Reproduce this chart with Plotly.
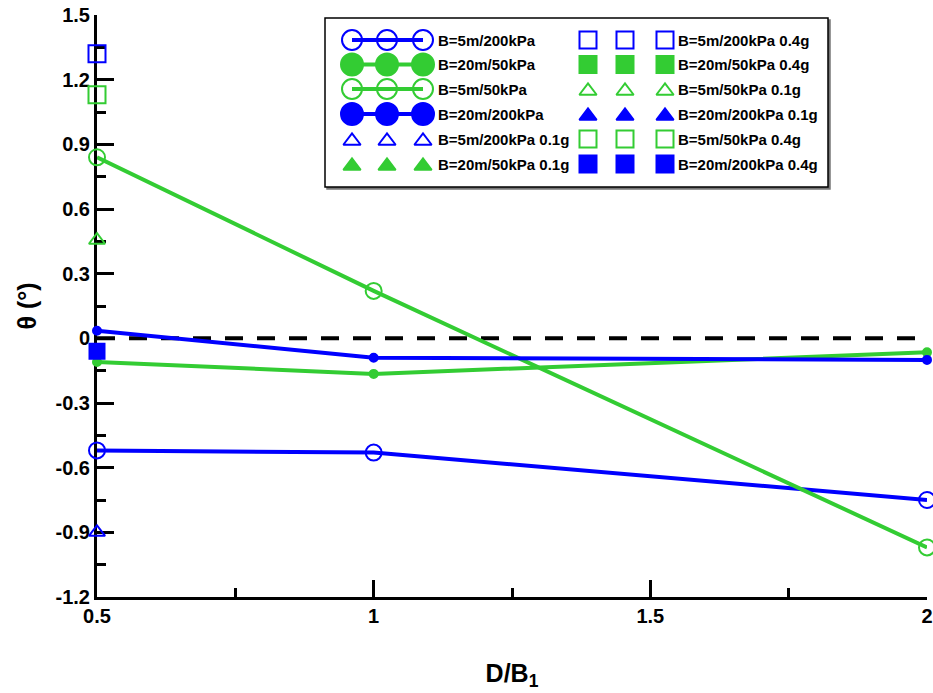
import plotly.graph_objects as go

# ---------------- data ----------------
x_lines = [0.5, 1, 2]
b5_200 = [-0.52, -0.53, -0.75]      # B=5m/200kPa
b20_50 = [-0.11, -0.165, -0.065]    # B=20m/50kPa
b5_50 = [0.84, 0.22, -0.97]         # B=5m/50kPa
b20_200 = [0.035, -0.09, -0.10]     # B=20m/200kPa

x_single = [0.5]
b5_200_01g = [-0.90]
b5_200_04g = [1.32]
b5_50_01g = [0.455]
b5_50_04g = [1.13]
b20_200_04g = [-0.06]

x_tickvals = [0.5, 1, 1.5, 2]
x_ticktext = ["0.5", "1", "1.5", "2"]
x_minor = [0.75, 1.25, 1.75]
y_tickvals = [1.5, 1.2, 0.9, 0.6, 0.3, 0, -0.3, -0.6, -0.9, -1.2]
y_ticktext = ["1.5", "1.2", "0.9", "0.6", "0.3", "0", "-0.3", "-0.6", "-0.9", "-1.2"]
y_minor = [1.35, 1.05, 0.75, 0.45, 0.15, -0.15, -0.45, -0.75, -1.05]

legend_labels_col1 = ["B=5m/200kPa", "B=20m/50kPa", "B=5m/50kPa",
                      "B=20m/200kPa", "B=5m/200kPa 0.1g", "B=20m/50kPa 0.1g"]
legend_labels_col2 = ["B=5m/200kPa 0.4g", "B=20m/50kPa 0.4g", "B=5m/50kPa 0.1g",
                      "B=20m/200kPa 0.1g", "B=5m/50kPa 0.4g", "B=20m/200kPa 0.4g"]

# ---------------- styles ----------------
BLUE = "#0000ff"
GREEN = "#33cc33"
FONT = "Arial, Liberation Sans, sans-serif"

fig = go.Figure()

# zero reference line
fig.add_hline(y=0, line=dict(color="black", width=4, dash="18px,14px"), layer="below")

def line_trace(y, color, symbol, size, name):
    return go.Scatter(
        x=x_lines, y=y, mode="lines+markers", name=name, cliponaxis=False,
        line=dict(color=color, width=4),
        marker=dict(symbol=symbol, size=size, color=color,
                    line=dict(color=color, width=2)))

def pt_trace(y, color, symbol, size, name):
    return go.Scatter(
        x=x_single, y=y, mode="markers", name=name, cliponaxis=False,
        marker=dict(symbol=symbol, size=size, color=color,
                    line=dict(color=color, width=2)))

fig.add_trace(line_trace(b5_200, BLUE, "circle-open", 16, "B=5m/200kPa"))
fig.add_trace(line_trace(b20_50, GREEN, "circle", 8, "B=20m/50kPa"))
fig.add_trace(line_trace(b5_50, GREEN, "circle-open", 16, "B=5m/50kPa"))
fig.add_trace(line_trace(b20_200, BLUE, "circle", 8, "B=20m/200kPa"))
fig.add_trace(pt_trace(b5_200_01g, BLUE, "triangle-up-open", 14, "B=5m/200kPa 0.1g"))
fig.add_trace(pt_trace(b5_200_04g, BLUE, "square-open", 17, "B=5m/200kPa 0.4g"))
fig.add_trace(pt_trace(b5_50_01g, GREEN, "triangle-up-open", 14, "B=5m/50kPa 0.1g"))
fig.add_trace(pt_trace(b5_50_04g, GREEN, "square-open", 17, "B=5m/50kPa 0.4g"))
fig.add_trace(pt_trace(b20_200_04g, BLUE, "square", 15, "B=20m/200kPa 0.4g"))

# ---------------- custom legend (overlay axes in pixel units) ----------------
L_X0, L_X1, L_Y0, L_Y1 = 325, 828, 18, 187
row_y = [40, 64.5, 89, 114, 139, 164]
col1_sym_x = [352, 387, 423]
col2_sym_x = [588, 625, 665]
col1_text_x = 436
col2_text_x = 676

legend_style_col1 = [
    (BLUE, "circle-open", 20, True),
    (GREEN, "circle", 22, True),
    (GREEN, "circle-open", 20, True),
    (BLUE, "circle", 22, True),
    (BLUE, "triangle-up-open", 15, False),
    (GREEN, "triangle-up", 15, False),
]
legend_style_col2 = [
    (BLUE, "square-open", 17, False),
    (GREEN, "square", 17, False),
    (GREEN, "triangle-up-open", 15, False),
    (BLUE, "triangle-up", 15, False),
    (GREEN, "square-open", 17, False),
    (BLUE, "square", 17, False),
]

fig.add_shape(type="rect", xref="x2", yref="y2", x0=L_X0 + 2, x1=L_X1 + 2,
              y0=L_Y0 + 2, y1=L_Y1 + 2, line=dict(color="#777777", width=1.5),
              fillcolor="#777777", layer="below")
fig.add_shape(type="rect", xref="x2", yref="y2", x0=L_X0, x1=L_X1,
              y0=L_Y0, y1=L_Y1, line=dict(color="black", width=1.5),
              fillcolor="white", layer="below")

for col_x, styles, labels, tx in [(col1_sym_x, legend_style_col1, legend_labels_col1, col1_text_x),
                                  (col2_sym_x, legend_style_col2, legend_labels_col2, col2_text_x)]:
    for ry, (color, symbol, size, with_line), label in zip(row_y, styles, labels):
        ty = ry + (2 if symbol.startswith("triangle") else 0)
        fig.add_trace(go.Scatter(
            x=col_x, y=[ty] * 3, xaxis="x2", yaxis="y2", cliponaxis=False,
            mode="lines+markers" if with_line else "markers", hoverinfo="skip",
            line=dict(color=color, width=4),
            marker=dict(symbol=symbol, size=size, color=color,
                        line=dict(color=color, width=2))))
        fig.add_annotation(x=tx, y=ry, xref="x2", yref="y2", text=label,
                           showarrow=False, xanchor="left", yanchor="middle",
                           font=dict(family=FONT, size=15, color="black", weight="bold"))

# ---------------- layout ----------------
tickfont = dict(family=FONT, size=20, color="black", weight="bold")
fig.update_layout(
    width=933, height=693,
    margin=dict(l=97, r=6, t=15, b=96, autoexpand=False),
    paper_bgcolor="white", plot_bgcolor="white",
    showlegend=False,
    xaxis=dict(range=[0.5, 2], tickvals=x_tickvals, ticktext=x_ticktext,
               ticks="inside", ticklen=17, tickwidth=2.5, tickcolor="black",
               showline=True, linewidth=3, linecolor="black", automargin=False,
               showgrid=False, zeroline=False, layer="below traces",
               tickfont=tickfont, ticklabelstandoff=-1,
               minor=dict(tickvals=x_minor, ticks="inside", ticklen=9,
                          tickwidth=2.5, tickcolor="black", showgrid=False),
               title=dict(text="D/B<sub>1</sub>", standoff=39,
                          font=dict(family=FONT, size=25, color="black", weight="bold"))),
    yaxis=dict(range=[-1.2, 1.5], tickvals=y_tickvals, ticktext=y_ticktext,
               ticks="inside", ticklen=17, tickwidth=2.5, tickcolor="black",
               showline=True, linewidth=3, linecolor="black", automargin=False,
               showgrid=False, zeroline=False, layer="below traces",
               tickfont=tickfont, ticklabelstandoff=0,
               minor=dict(tickvals=y_minor, ticks="inside", ticklen=9,
                          tickwidth=2.5, tickcolor="black", showgrid=False),
               title=dict(text="θ (°)", standoff=12,
                          font=dict(family=FONT, size=25, color="black", weight="bold"))),
    xaxis2=dict(overlaying="x", range=[97, 927], visible=False, fixedrange=True,
                automargin=False),
    yaxis2=dict(overlaying="y", range=[597, 15], visible=False, fixedrange=True,
                automargin=False),
)

fig.write_html("out.html",
               config={"displayModeBar": False},
               post_script="document.body.style.margin='0';"
                           "document.documentElement.style.overflow='hidden';")
